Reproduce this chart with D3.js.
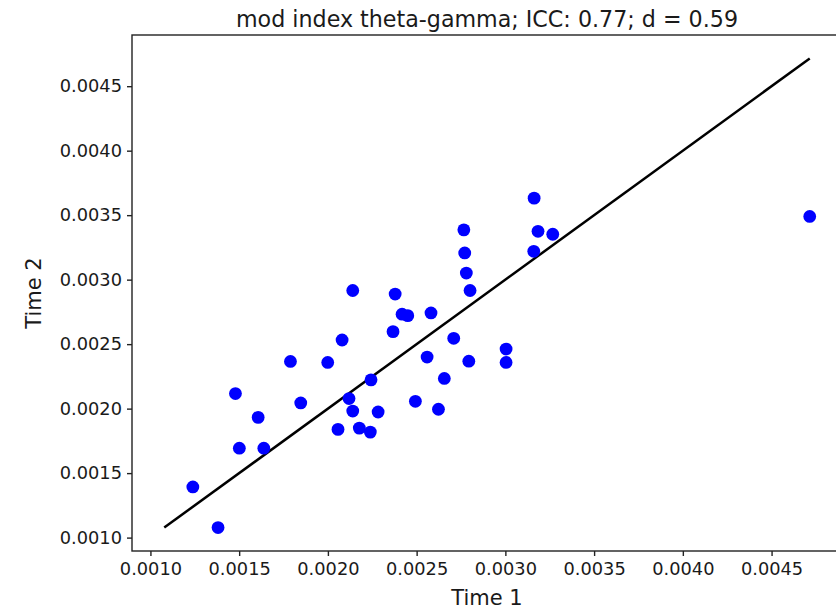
<!DOCTYPE html>
<html>
<head>
<meta charset="utf-8">
<script src="https://cdn.jsdelivr.net/npm/d3@7"></script>
<style>
  body { margin: 0; background: #fff; }
  text { font-family: "DejaVu Sans", sans-serif; fill: #1a1a1a; }
</style>
</head>
<body>
<svg id="chart" width="836" height="610"></svg>
<script>
// values
const time1 = [0.001239, 0.001381, 0.001479, 0.001501, 0.001607, 0.001639, 0.001789, 0.001847,
  0.001999, 0.002080, 0.002057, 0.002119, 0.002140, 0.002177, 0.002239, 0.002243, 0.002283,
  0.002367, 0.002379, 0.002418, 0.002450, 0.002581, 0.002493, 0.002559, 0.002623, 0.002656,
  0.002709, 0.002794, 0.002140, 0.002766, 0.002771, 0.002780, 0.002801, 0.003162, 0.003184,
  0.003267, 0.003160, 0.004715, 0.003004, 0.003004];
const time2 = [0.001393, 0.001078, 0.002117, 0.001693, 0.001932, 0.001693, 0.002366, 0.002044,
  0.002358, 0.002532, 0.001839, 0.002078, 0.001981, 0.001849, 0.001818, 0.002223, 0.001974,
  0.002597, 0.002888, 0.002732, 0.002721, 0.002742, 0.002057, 0.002400, 0.001995, 0.002234,
  0.002545, 0.002368, 0.002916, 0.003386, 0.003207, 0.003051, 0.002916, 0.003632, 0.003375,
  0.003352, 0.003220, 0.003490, 0.002462, 0.002358];
const tickVals = [0.0010, 0.0015, 0.0020, 0.0025, 0.0030, 0.0035, 0.0040, 0.0045];
const title = "mod index theta-gamma; ICC: 0.77; d = 0.59";

const svg = d3.select("#chart");
const margin = { left: 132, top: 35 };
const width = 710, height = 516;

// identity line from overall min to overall max
const all = time1.concat(time2);
const lo = d3.min(all), hi = d3.max(all);
const pad = (hi - lo) * 0.05;

const x = d3.scaleLinear().domain([lo - pad, hi + pad]).range([margin.left, margin.left + width]);
const y = d3.scaleLinear().domain([lo - pad, hi + pad]).range([margin.top + height, margin.top]);

const g = svg.append("g");

g.append("line")
  .attr("x1", x(lo)).attr("y1", y(lo))
  .attr("x2", x(hi)).attr("y2", y(hi))
  .attr("stroke", "#000")
  .attr("stroke-width", 2.5);

g.selectAll("circle")
  .data(time1.map((v, i) => [v, time2[i]]))
  .join("circle")
  .attr("cx", d => x(d[0]))
  .attr("cy", d => y(d[1]))
  .attr("r", 6.4)
  .attr("fill", "#0000ff");

// frame
svg.append("rect")
  .attr("x", margin.left).attr("y", margin.top)
  .attr("width", width).attr("height", height)
  .attr("fill", "none").attr("stroke", "#222").attr("stroke-width", 1.4);

const fmt = d3.format(".4f");

const xAxis = svg.append("g")
  .attr("transform", `translate(0,${margin.top + height})`)
  .call(d3.axisBottom(x).tickValues(tickVals).tickFormat(fmt).tickSize(5).tickPadding(6));
const yAxis = svg.append("g")
  .attr("transform", `translate(${margin.left},0)`)
  .call(d3.axisLeft(y).tickValues(tickVals).tickFormat(fmt).tickSize(5).tickPadding(5));

[xAxis, yAxis].forEach(a => {
  a.select(".domain").remove();
  a.selectAll(".tick line").attr("stroke", "#222").attr("stroke-width", 1.4);
  a.selectAll(".tick text").style("font-size", "17.8px").attr("fill", "#1a1a1a");
});

svg.append("text")
  .attr("x", margin.left + width / 2).attr("y", 27)
  .attr("text-anchor", "middle")
  .style("font-size", "22.2px")
  .text(title);

svg.append("text")
  .attr("x", margin.left + width / 2).attr("y", 605)
  .attr("text-anchor", "middle")
  .style("font-size", "21px")
  .text("Time 1");

svg.append("text")
  .attr("transform", `translate(41,${margin.top + height / 2}) rotate(-90)`)
  .attr("text-anchor", "middle")
  .style("font-size", "21px")
  .text("Time 2");
</script>
</body>
</html>
